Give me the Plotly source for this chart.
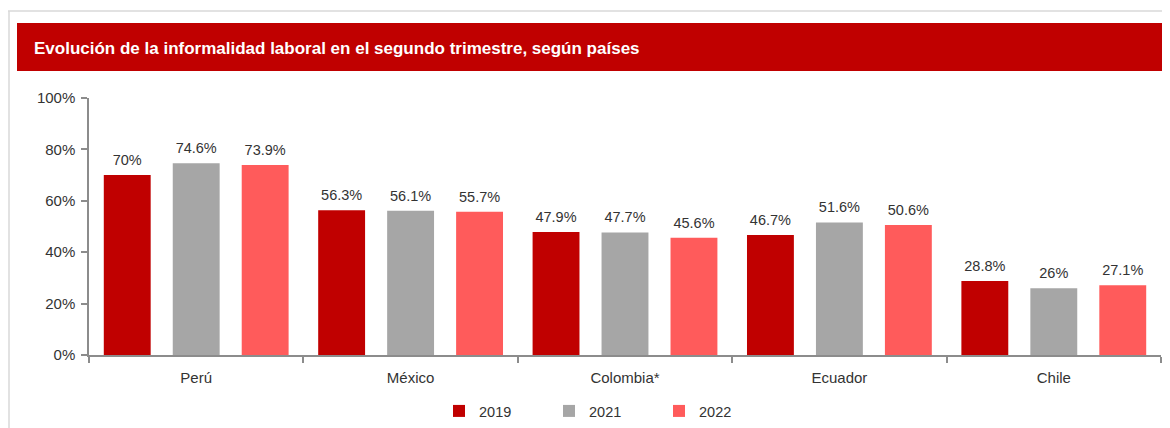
import plotly.graph_objects as go

countries = ["Perú", "México", "Colombia*", "Ecuador", "Chile"]
years = ["2019", "2021", "2022"]
v2019 = [70, 56.3, 47.9, 46.7, 28.8]
v2021 = [74.6, 56.1, 47.7, 51.6, 26]
v2022 = [73.9, 55.7, 45.6, 50.6, 27.1]
colors = ["#C00000", "#A6A6A6", "#FF5B5B"]
title = "Evolución de la informalidad laboral en el segundo trimestre, según países"

W, H = 1170, 428
OFF = 8  # page body margin offset in the screenshot
# plot area in screenshot pixels: x 89..1161, y 98..355
L = 89 - OFF
R = W - (1161 - OFF)
T = 98 - OFF
B = H - (355 - OFF)
pw, ph = W - L - R, H - T - B

def px(x):
    return (x - OFF - L) / pw

def py(y):
    return (H - B - (y - OFF)) / ph

FONT = "Liberation Sans, Arial, sans-serif"

fig = go.Figure()
for name, vals, col in zip(years, [v2019, v2021, v2022], colors):
    fig.add_trace(go.Bar(
        x=countries, y=vals, name=name, offsetgroup=name,
        marker=dict(color=col, line=dict(width=0)),
    ))
for name, vals in zip(years, [v2019, v2021, v2022]):
    fig.add_trace(go.Scatter(
        x=countries, y=vals, mode="markers+text", offsetgroup=name, showlegend=False,
        marker=dict(size=9, opacity=0), text=[f"{v}%" for v in vals],
        textposition="top center", cliponaxis=False, hoverinfo="skip",
        textfont=dict(size=14.5, color="#333333", family=FONT),
    ))

fig.update_layout(
    width=W, height=H, barmode="group", bargap=0.035, bargroupgap=0.32,
    scattermode="group", scattergap=0.035,
    margin=dict(l=L, r=R, t=T, b=B, pad=0, autoexpand=False),
    paper_bgcolor="white", plot_bgcolor="white",
    font=dict(family=FONT, size=15, color="#333333"),
    showlegend=True,
    legend=dict(orientation="h", x=px(604), xanchor="center", y=py(411), yanchor="middle",
                font=dict(size=14.5, color="#333333"), entrywidth=65, itemwidth=30,
                bgcolor="rgba(0,0,0,0)"),
    xaxis=dict(showline=True, linecolor="#8c8c8c", linewidth=1.5, ticks="outside",
               tickson="boundaries", ticklen=6, tickcolor="#8c8c8c", tickwidth=1.5,
               showgrid=False, tickfont=dict(size=15, color="#333333"),
               ticklabelstandoff=8, automargin=False),
    yaxis=dict(range=[0, 100], showline=True, linecolor="#8c8c8c", linewidth=1.5,
               ticks="outside", ticklen=6, tickcolor="#8c8c8c", tickwidth=1.5,
               showgrid=False, zeroline=False, tickvals=[0, 20, 40, 60, 80, 100],
               ticktext=["0%", "20%", "40%", "60%", "80%", "100%"],
               tickfont=dict(size=15, color="#333333"), ticklabelstandoff=3,
               automargin=False),
    shapes=[
        dict(type="rect", xref="paper", yref="paper", x0=px(17), x1=px(1180),
             y0=py(71), y1=py(23), fillcolor="#C00000", line=dict(width=0), layer="below"),
        dict(type="line", xref="paper", yref="paper", x0=px(7), x1=px(1180),
             y0=py(11), y1=py(11), line=dict(color="#d9d9d9", width=1.5)),
        dict(type="line", xref="paper", yref="paper", x0=px(9), x1=px(9),
             y0=py(11), y1=py(440), line=dict(color="#d9d9d9", width=1.5)),
    ],
    annotations=[
        dict(text="<b>" + title + "</b>", xref="paper", yref="paper", x=px(32), y=py(48),
             xanchor="left", yanchor="middle", showarrow=False,
             font=dict(size=17, color="white", family=FONT)),
    ],
)

fig.write_html("out.html")
